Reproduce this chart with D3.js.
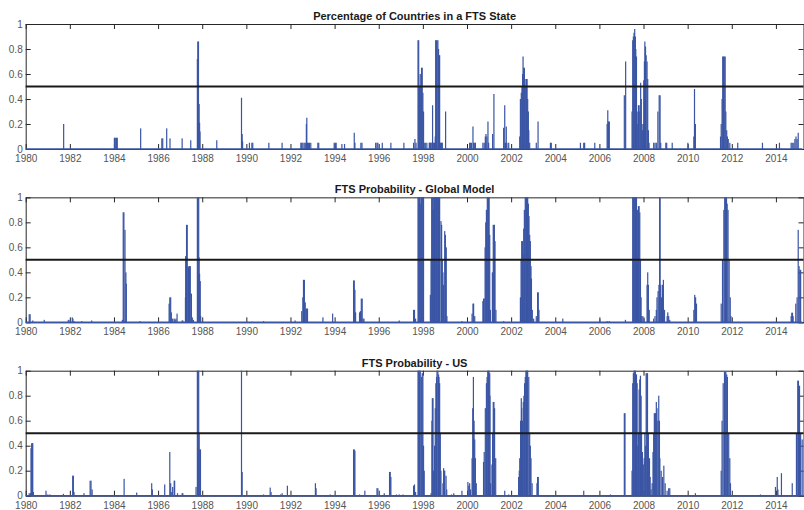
<!DOCTYPE html>
<html>
<head>
<meta charset="utf-8">
<script src="https://cdn.jsdelivr.net/npm/d3@7/dist/d3.min.js"></script>
<style>
	body { margin: 0; background: #fff; }
	svg { display: block; }
	.axis text { font-family: "Liberation Sans", Arial, sans-serif; font-size: 10px; fill: #555; }
	.axis path, .axis line { stroke: #262626; stroke-width: 1; }
	.title { font-family: "Liberation Sans", Arial, sans-serif; font-size: 11px; font-weight: bold; fill: #1a1a1a; }
</style>
</head>
<body>
<script>
//panel titles
var titles = [
	"Percentage of Countries in a FTS State",
	"FTS Probability - Global Model",
	"FTS Probability - US"
];

//tick values
var xTickYears = [1980,1982,1984,1986,1988,1990,1992,1994,1996,1998,2000,2002,2004,2006,2008,2010,2012,2014];
var yTickValues = [0,0.2,0.4,0.6,0.8,1];
var threshold = 0.5;

//series: [year, value], zero everywhere else
var pctFTS = [
	[1981.72,0.20],
	[1984.02,0.09],[1984.06,0.09],[1984.11,0.09],[1984.15,0.09],
	[1985.21,0.165],
	[1986.17,0.085],[1986.21,0.085],[1986.39,0.165],[1986.54,0.085],
	[1987.09,0.085],[1987.48,0.07],
	[1987.78,0.72],[1987.80,0.86],[1987.83,0.86],[1987.86,0.36],[1987.88,0.21],[1987.90,0.14],
	[1988.66,0.07],
	[1989.78,0.41],[1989.81,0.12],[1989.83,0.06],
	[1990.14,0.05],[1990.25,0.05],[1990.29,0.05],
	[1991.02,0.05],[1991.62,0.05],
	[1992.47,0.05],[1992.51,0.05],[1992.56,0.05],[1992.62,0.05],[1992.67,0.05],[1992.72,0.2],[1992.74,0.25],[1992.77,0.05],[1992.82,0.05],[1992.86,0.05],[1992.92,0.05],
	[1993.24,0.05],[1993.28,0.05],
	[1993.98,0.05],[1994.03,0.05],[1994.07,0.05],
	[1994.33,0.04],[1994.45,0.04],
	[1994.89,0.13],[1994.92,0.05],
	[1995.19,0.05],[1995.24,0.05],
	[1995.86,0.05],[1995.92,0.05],[1995.96,0.05],
	[1996.16,0.05],[1996.55,0.05],[1997.14,0.05],
	[1997.58,0.05],[1997.64,0.08],[1997.69,0.05],
	[1997.78,0.87],[1997.81,0.87],[1997.85,0.5],[1997.88,0.6],[1997.91,0.5],[1997.94,0.65],[1997.97,0.65],[1998.00,0.45],[1998.03,0.3],
	[1998.06,0.05],[1998.11,0.05],[1998.18,0.05],[1998.29,0.05],[1998.31,0.05],[1998.34,0.05],[1998.37,0.05],[1998.41,0.05],[1998.44,0.35],[1998.47,0.05],[1998.50,0.05],[1998.53,0.05],[1998.56,0.1],
	[1998.58,0.87],[1998.61,0.87],[1998.64,0.87],[1998.68,0.87],[1998.71,0.8],[1998.74,0.75],[1998.76,0.75],
	[1998.79,0.05],[1998.82,0.05],[1998.85,0.05],[1998.88,0.05],
	[1999.03,0.30],
	[2000.12,0.05],[2000.15,0.05],[2000.20,0.05],[2000.27,0.18],[2000.30,0.05],[2000.35,0.05],[2000.38,0.05],
	[2000.72,0.05],[2000.78,0.05],[2000.83,0.1],[2000.86,0.12],[2000.90,0.1],[2000.95,0.22],[2000.98,0.05],
	[2001.16,0.12],[2001.22,0.44],
	[2001.66,0.17],[2001.71,0.35],[2001.74,0.05],[2001.78,0.18],[2001.81,0.05],[2001.89,0.05],
	[2002.39,0.1],[2002.42,0.4],[2002.46,0.45],[2002.49,0.5],[2002.52,0.6],[2002.54,0.74],[2002.57,0.65],[2002.60,0.65],[2002.64,0.5],[2002.67,0.56],[2002.70,0.56],[2002.72,0.56],[2002.75,0.4],[2002.78,0.3],[2002.80,0.15],[2002.84,0.05],
	[2003.14,0.05],[2003.22,0.22],
	[2003.78,0.05],[2003.82,0.05],
	[2005.14,0.05],[2005.29,0.05],[2005.33,0.05],[2005.79,0.05],
	[2006.35,0.2],[2006.38,0.31],[2006.41,0.22],[2006.45,0.22],
	[2007.13,0.43],[2007.19,0.70],
	[2007.48,0.3],[2007.51,0.87],[2007.54,0.9],[2007.57,0.93],[2007.60,0.96],[2007.63,0.9],[2007.65,0.8],[2007.68,0.74],[2007.71,0.3],[2007.74,0.2],
	[2007.77,0.35],[2007.80,0.35],[2007.83,0.3],[2007.87,0.53],[2007.90,0.4],[2007.93,0.2],[2007.96,0.15],[2007.99,0.2],
	[2008.01,0.55],[2008.04,0.7],[2008.06,0.86],[2008.09,0.82],[2008.12,0.75],[2008.16,0.70],[2008.19,0.56],[2008.22,0.15],[2008.25,0.05],
	[2008.46,0.05],[2008.52,0.05],[2008.58,0.05],[2008.65,0.3],[2008.71,0.43],[2008.75,0.43],[2008.78,0.05],
	[2009.01,0.05],[2009.05,0.05],[2009.30,0.05],
	[2010.01,0.05],[2010.28,0.1],[2010.31,0.48],[2010.35,0.2],
	[2011.49,0.1],[2011.52,0.2],[2011.56,0.4],[2011.59,0.74],[2011.62,0.74],[2011.66,0.74],[2011.70,0.74],[2011.73,0.3],[2011.77,0.15],[2011.80,0.1],[2011.84,0.08],[2011.91,0.05],
	[2012.27,0.05],[2013.39,0.05],[2014.16,0.05],
	[2014.69,0.05],[2014.74,0.05],[2014.81,0.05],[2014.86,0.08],[2014.91,0.1],[2014.96,0.08],[2015.01,0.13]
];

var probGlobal = [
	[1980.16,0.065],[1980.20,0.065],[1980.32,0.015],
	[1980.84,0.02],
	[1981.93,0.02],[1982.01,0.02],[1982.11,0.04],[1982.14,0.03],[1982.19,0.01],
	[1982.54,0.01],[1982.99,0.015],
	[1984.38,0.02],[1984.42,0.88],[1984.45,0.88],[1984.50,0.74],[1984.54,0.4],[1984.56,0.31],
	[1985.18,0.01],
	[1986.50,0.15],[1986.53,0.2],[1986.57,0.2],[1986.60,0.08],[1986.66,0.03],[1986.73,0.03],[1986.77,0.02],[1986.81,0.03],[1986.86,0.07],
	[1987.09,0.015],[1987.12,0.015],
	[1987.24,0.2],[1987.25,0.53],[1987.29,0.78],[1987.32,0.78],[1987.36,0.45],[1987.38,0.44],[1987.42,0.45],[1987.46,0.45],[1987.51,0.23],[1987.55,0.04],[1987.60,0.02],
	[1987.78,1],[1987.81,1],[1987.84,1],[1987.86,0.52],[1987.88,0.39],[1987.91,0.33],[1987.93,0.05],
	[1990.25,0.005],[1990.78,0.01],
	[1992.21,0.015],
	[1992.51,0.09],[1992.56,0.2],[1992.59,0.34],[1992.63,0.34],[1992.67,0.16],[1992.71,0.11],[1992.74,0.11],[1992.77,0.11],
	[1993.47,0.04],[1993.91,0.07],
	[1994.86,0.335],[1994.89,0.335],[1994.92,0.26],[1994.95,0.08],
	[1995.13,0.08],[1995.17,0.09],[1995.21,0.19],[1995.25,0.19],[1995.29,0.03],[1995.33,0.03],
	[1996.93,0.015],
	[1997.58,0.1],[1997.62,0.1],[1997.67,0.03],
	[1997.78,1],[1997.81,1],[1997.85,1],[1997.88,0.95],[1997.91,1],[1997.94,1],[1997.97,1],[1998.00,1],[1998.03,1],
	[1998.34,0.22],[1998.37,0.5],[1998.40,1],[1998.43,1],[1998.46,0.9],[1998.49,1],[1998.51,0.9],[1998.53,1],[1998.56,1],[1998.59,1],[1998.62,1],[1998.65,1],[1998.68,1],[1998.71,1],[1998.74,1],[1998.76,1],
	[1998.82,0.81],[1998.85,0.78],[1998.88,0.5],[1998.91,0.4],[1998.94,0.3],
	[1998.99,0.73],[1999.02,0.7],[1999.06,0.6],[1999.09,0.05],
	[1999.77,0.01],
	[2000.23,0.07],[2000.27,0.15],[2000.30,0.15],[2000.35,0.05],
	[2000.72,0.17],[2000.75,0.19],[2000.78,0.19],[2000.82,0.6],[2000.85,0.8],[2000.88,0.9],[2000.92,1],[2000.95,1],[2000.98,1],[2001.00,1],[2001.03,0.7],[2001.06,0.1],
	[2001.15,0.4],[2001.19,0.78],[2001.22,0.78],[2001.24,0.78],[2001.27,0.65],[2001.31,0.1],
	[2001.66,0.01],
	[2002.42,0.2],[2002.45,0.5],[2002.48,0.65],[2002.51,0.65],[2002.54,0.55],[2002.57,0.75],[2002.60,0.9],[2002.64,1],[2002.67,1],[2002.70,1],[2002.73,1],[2002.75,1],[2002.78,0.95],[2002.81,0.85],[2002.84,0.7],[2002.87,0.65],[2002.90,0.45],[2002.92,0.35],[2002.96,0.1],[2003.02,0.03],
	[2003.14,0.05],[2003.20,0.24],[2003.23,0.24],[2003.26,0.1],
	[2004.34,0.03],[2006.02,0.025],[2006.35,0.01],[2006.45,0.01],[2007.18,0.02],
	[2007.51,1],[2007.54,1],[2007.57,1],[2007.60,1],[2007.63,1],[2007.66,1],[2007.68,1],[2007.72,0.9],[2007.74,0.5],[2007.77,0.93],[2007.80,0.93],[2007.83,0.88],[2007.86,0.5],[2007.89,0.2],
	[2007.92,0.05],[2007.97,0.05],[2008.02,0.03],
	[2008.16,0.3],[2008.19,0.4],[2008.22,0.3],[2008.26,0.1],
	[2008.46,0.03],[2008.52,0.05],[2008.58,0.1],[2008.61,0.2],[2008.66,0.25],[2008.70,0.3],[2008.73,1],[2008.75,1],[2008.78,0.3],[2008.82,0.2],[2008.86,0.3],[2008.90,0.34],[2008.95,0.1],
	[2009.07,0.05],[2009.10,0.08],[2009.14,0.05],[2009.19,0.02],
	[2010.28,0.1],[2010.32,0.22],[2010.36,0.2],[2010.40,0.15],
	[2011.52,0.15],[2011.58,0.5],[2011.64,0.9],[2011.68,1],[2011.71,1],[2011.76,1],[2011.79,0.95],[2011.83,0.9],[2011.88,0.5],[2011.93,0.2],[2011.96,0.05],
	[2014.69,0.05],[2014.72,0.077],[2014.75,0.077],[2014.78,0.05],
	[2014.90,0.15],[2014.96,0.2],[2015.01,0.74],[2015.05,0.45],[2015.09,0.42],[2015.12,0.42]
];

var probUS = [
	[1980.16,0.02],[1980.22,0.02],[1980.24,0.38],[1980.27,0.42],[1980.30,0.42],[1980.32,0.42],[1980.35,0.03],
	[1980.92,0.04],[1981.00,0.01],[1981.10,0.01],[1981.71,0.015],
	[1982.13,0.16],[1982.16,0.16],[1982.19,0.03],
	[1982.64,0.02],
	[1982.92,0.12],[1982.96,0.12],[1983.01,0.05],
	[1984.46,0.135],[1985.03,0.025],
	[1985.71,0.1],[1985.74,0.05],
	[1986.30,0.09],
	[1986.53,0.35],[1986.57,0.1],[1986.62,0.03],[1986.66,0.07],[1986.73,0.12],[1986.75,0.12],[1986.88,0.02],[1987.09,0.02],[1987.12,0.02],
	[1987.72,0.07],[1987.78,1],[1987.81,1],[1987.84,1],[1987.86,0.5],[1987.89,0.37],[1987.92,0.37],
	[1989.78,1],[1989.81,0.19],
	[1990.78,0.01],
	[1991.08,0.065],[1991.12,0.03],
	[1991.55,0.01],[1991.62,0.02],[1991.86,0.08],
	[1993.13,0.1],[1993.16,0.06],
	[1993.80,0.01],
	[1994.86,0.37],[1994.89,0.37],[1994.92,0.36],
	[1995.13,0.01],[1995.37,0.04],
	[1995.92,0.06],[1995.96,0.06],
	[1996.25,0.02],
	[1996.49,0.19],[1996.52,0.19],[1996.55,0.15],
	[1996.80,0.01],[1996.93,0.01],[1997.10,0.01],
	[1997.58,0.08],[1997.62,0.09],[1997.67,0.03],
	[1997.78,1],[1997.81,1],[1997.85,1],[1997.88,1],[1997.93,0.95],[1997.97,0.98],[1998.00,0.98],[1998.03,0.4],[1998.06,0.2],
	[1998.37,0.02],[1998.41,0.6],[1998.43,0.78],[1998.46,0.78],[1998.49,0.2],[1998.53,0.4],[1998.56,0.7],[1998.59,0.9],[1998.62,0.95],[1998.64,1],[1998.68,1],[1998.71,0.97],[1998.73,0.95],[1998.76,0.9],[1998.79,0.5],[1998.82,0.2],
	[1998.91,0.1],[1998.94,0.22],[1998.97,0.2],[1998.99,0.2],[1999.05,0.16],[1999.08,0.05],
	[1999.30,0.01],[1999.40,0.02],[1999.77,0.04],
	[2000.04,0.11],[2000.08,0.08],[2000.12,0.1],[2000.16,0.05],
	[2000.23,0.3],[2000.26,0.7],[2000.29,0.95],[2000.32,0.6],[2000.35,0.45],[2000.38,0.3],[2000.42,0.1],
	[2000.75,0.27],[2000.78,0.35],[2000.83,0.7],[2000.88,0.9],[2000.91,0.95],[2000.94,1],[2000.97,1],[2001.00,1],[2001.03,0.98],[2001.04,0.8],[2001.07,0.1],
	[2001.13,0.25],[2001.16,0.5],[2001.19,0.75],[2001.22,0.75],[2001.25,0.7],[2001.30,0.3],
	[2001.71,0.04],[2001.89,0.01],
	[2002.34,0.15],[2002.37,0.2],[2002.39,0.3],[2002.43,0.6],[2002.46,0.78],[2002.48,0.7],[2002.51,0.6],[2002.55,0.75],[2002.58,0.8],[2002.61,0.9],[2002.64,0.95],[2002.67,1],[2002.70,1],[2002.73,1],[2002.75,1],[2002.80,0.95],[2002.84,0.5],[2002.87,0.4],[2002.90,0.3],[2002.95,0.1],
	[2003.17,0.1],[2003.20,0.15],[2003.23,0.15],
	[2005.29,0.04],[2006.50,0.01],
	[2007.13,0.66],[2007.16,0.66],
	[2007.48,0.2],[2007.51,0.9],[2007.54,0.98],[2007.57,1],[2007.60,1],[2007.63,1],[2007.65,0.97],[2007.68,0.97],[2007.71,0.9],[2007.74,0.4],
	[2007.77,0.5],[2007.80,0.85],[2007.83,0.93],[2007.86,0.96],[2007.89,0.8],[2007.91,0.5],
	[2007.95,0.35],[2007.99,0.25],[2008.03,0.3],[2008.06,0.5],[2008.09,0.4],
	[2008.12,0.98],[2008.15,0.98],[2008.18,0.98],[2008.22,0.5],[2008.27,0.3],[2008.30,0.15],[2008.34,0.05],[2008.39,0.1],
	[2008.43,0.35],[2008.46,0.5],[2008.49,0.66],[2008.52,0.66],[2008.55,0.66],[2008.58,0.75],[2008.61,0.7],[2008.65,0.6],[2008.69,0.8],[2008.72,0.6],[2008.74,0.3],[2008.80,0.2],[2008.86,0.15],[2008.92,0.24],[2008.98,0.1],
	[2009.07,0.04],[2009.14,0.06],[2009.19,0.06],
	[2010.35,0.02],
	[2011.52,0.2],[2011.56,0.6],[2011.61,0.9],[2011.67,0.99],[2011.70,0.99],[2011.73,0.99],[2011.77,0.97],[2011.80,0.95],[2011.86,0.5],[2011.91,0.3],[2011.94,0.1],
	[2013.30,0.01],
	[2013.98,0.07],[2014.06,0.15],[2014.09,0.05],
	[2014.25,0.18],[2014.74,0.1],
	[2014.93,0.5],[2014.99,0.92],[2015.02,0.92],[2015.07,0.88],[2015.12,0.5],[2015.19,0.45]
];

var seriesList = [pctFTS, probGlobal, probUS];

//layout
const width = 804, height = 510;
const plotLeft = 25.7, plotRight = 803.5;
const panelTop = 24, panelHeight = 125, panelStep = 173.35;
const barColor = "#3a55a4";

var svg = d3.select("body")
	.append("svg")
	.attr("width", width)
	.attr("height", height);

//shared x scale
var xScale = d3.scaleLinear().domain([1980, 2015.25]).range([plotLeft, plotRight]);

seriesList.forEach(function(series, i){
	var g = svg.append("g")
		.attr("transform", "translate(0," + (panelTop + i * panelStep) + ")");

	var yScale = d3.scaleLinear().domain([0, 1]).range([panelHeight, 0]);

	//axes (box with inward ticks)
	g.append("g")
		.attr("class", "axis")
		.attr("transform", "translate(0," + panelHeight + ")")
		.call(d3.axisBottom(xScale).tickValues(xTickYears).tickFormat(d3.format("d"))
			.tickSizeInner(-5).tickSizeOuter(0).tickPadding(6));

	g.append("g")
		.attr("class", "axis")
		.call(d3.axisTop(xScale).tickValues(xTickYears).tickFormat("")
			.tickSizeInner(-5).tickSizeOuter(0));

	g.append("g")
		.attr("class", "axis")
		.attr("transform", "translate(" + plotLeft + ",0)")
		.call(d3.axisLeft(yScale).tickValues(yTickValues).tickFormat(function(d){ return String(d); })
			.tickSizeInner(-5).tickSizeOuter(0).tickPadding(3));

	g.append("g")
		.attr("class", "axis")
		.attr("transform", "translate(" + plotRight + ",0)")
		.call(d3.axisRight(yScale).tickValues(yTickValues).tickFormat("")
			.tickSizeInner(-5).tickSizeOuter(0));

	//zero baseline of the area
	g.append("line")
		.attr("x1", xScale(1980))
		.attr("x2", xScale(2015.2))
		.attr("y1", yScale(0))
		.attr("y2", yScale(0))
		.attr("stroke", barColor)
		.attr("stroke-width", 1.5);

	//bars
	g.append("g")
		.selectAll("rect")
		.data(series)
		.enter()
		.append("rect")
		.attr("x", function(d){ return xScale(d[0]) - 0.6; })
		.attr("width", 1.2)
		.attr("y", function(d){ return yScale(d[1]); })
		.attr("height", function(d){ return yScale(0) - yScale(d[1]); })
		.attr("fill", barColor);

	//threshold line
	g.append("line")
		.attr("x1", plotLeft)
		.attr("x2", plotRight)
		.attr("y1", yScale(threshold))
		.attr("y2", yScale(threshold))
		.attr("stroke", "#1a1a1a")
		.attr("stroke-width", 2);

	//title
	g.append("text")
		.attr("class", "title")
		.attr("x", (plotLeft + plotRight) / 2)
		.attr("y", -4)
		.attr("text-anchor", "middle")
		.text(titles[i]);
});
</script>
</body>
</html>
